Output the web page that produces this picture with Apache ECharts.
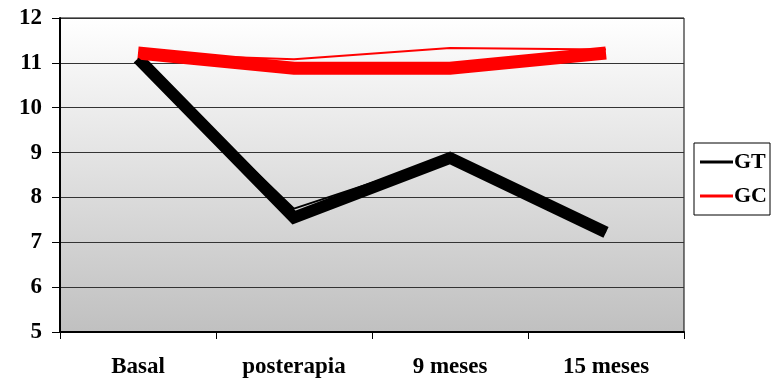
<!DOCTYPE html>
<html><head><meta charset="utf-8">
<script src="https://cdn.jsdelivr.net/npm/echarts@6/dist/echarts.min.js"></script>
<style>html,body{margin:0;padding:0;background:#fff}#c{width:778px;height:382px}</style>
</head><body><div id="c"></div>
<script>
const categories = ['Basal', 'posterapia', '9 meses', '15 meses'];
const yTicks = [5, 6, 7, 8, 9, 10, 11, 12];
const gtThin = [11.1, 7.75, 8.9, 7.22];
const gtThick = [11.1, 7.55, 8.88, 7.22];
const gcThin = [11.2, 11.08, 11.33, 11.3];
const gcThick = [11.22, 10.88, 10.88, 11.22];

const font = 'Liberation Serif';
const chart = echarts.init(document.getElementById('c'), null, {renderer: 'canvas'});
chart.setOption({
  animation: false,
  grid: {
    left: 60, right: 94, top: 18, bottom: 50,
    show: true, borderColor: '#000', borderWidth: 1,
    backgroundColor: {type: 'linear', x: 0, y: 0, x2: 0, y2: 1,
      colorStops: [{offset: 0, color: '#ffffff'}, {offset: 1, color: '#c0c0c0'}]}
  },
  legend: {
    data: [
      {name: 'GT', icon: 'rect'},
      {name: 'GC', icon: 'rect'}
    ],
    orient: 'vertical', left: 694, top: 143,
    itemWidth: 33, itemHeight: 3, itemGap: 12,
    padding: [8, 3, 8, 6],
    borderColor: '#000', borderWidth: 1, borderRadius: 0, backgroundColor: '#fff',
    textStyle: {fontFamily: font, fontWeight: 'bold', fontSize: 22, color: '#000', padding: [0, 0, 0, -4]}
  },
  xAxis: {
    type: 'category', data: categories, boundaryGap: true,
    axisLine: {lineStyle: {color: '#000', width: 2}},
    axisTick: {show: true, length: 7, lineStyle: {color: '#000', width: 1}},
    axisLabel: {fontFamily: font, fontWeight: 'bold', fontSize: 23, color: '#000', margin: 24},
    splitLine: {show: false}
  },
  yAxis: {
    type: 'value', min: yTicks[0], max: yTicks[yTicks.length - 1], interval: 1,
    axisLine: {show: true, lineStyle: {color: '#000', width: 2}},
    axisTick: {show: true, length: 8, lineStyle: {color: '#000'}},
    axisLabel: {fontFamily: font, fontWeight: 'bold', fontSize: 23, color: '#000', margin: 18},
    splitLine: {show: true, lineStyle: {color: '#333', width: 1}}
  },
  series: [
    {name: 'GT thick', type: 'line', data: gtThick, symbol: 'none', silent: true,
     lineStyle: {color: '#000', width: 12, cap: 'butt', join: 'miter'}, z: 2},
    {name: 'GC thick', type: 'line', data: gcThick, symbol: 'none', silent: true,
     lineStyle: {color: '#ff0000', width: 13, cap: 'butt', join: 'miter'}, z: 2},
    {name: 'GT', type: 'line', data: gtThin, symbol: 'none', color: '#000',
     lineStyle: {color: '#000', width: 2}, z: 3},
    {name: 'GC', type: 'line', data: gcThin, symbol: 'none', color: '#ff0000',
     lineStyle: {color: '#ff0000', width: 2}, z: 3}
  ]
});
</script></body></html>
